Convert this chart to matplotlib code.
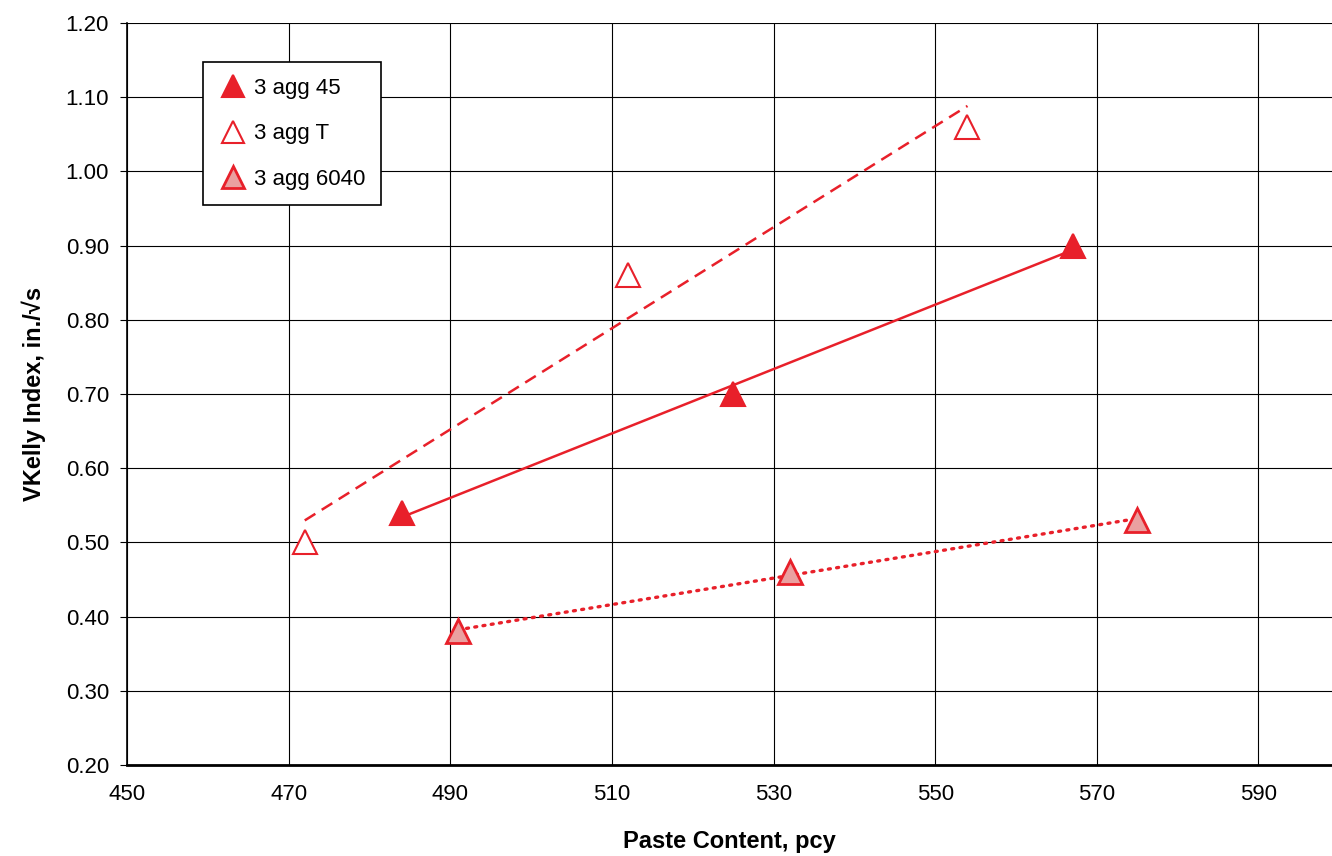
import matplotlib
matplotlib.use('Agg')
import matplotlib.pyplot as plt
import numpy as np

plt.rcParams['font.family'] = ['Liberation Sans', 'DejaVu Sans']

red = '#e8202a'

# data
x45 = [484, 525, 567]
y45 = [0.54, 0.70, 0.90]
xT = [472, 512, 554]
yT = [0.50, 0.86, 1.06]
x6040 = [491, 532, 575]
y6040 = [0.38, 0.46, 0.53]

xticks = [450, 470, 490, 510, 530, 550, 570, 590]
yticks = [0.20, 0.30, 0.40, 0.50, 0.60, 0.70, 0.80, 0.90, 1.00, 1.10, 1.20]

fig = plt.figure(figsize=(13.32, 8.56), dpi=100)
ax = fig.add_axes([0.0953, 0.1063, 0.9047, 0.8668])

def trend(xs, ys, style):
    m, b = np.polyfit(xs, ys, 1)
    xx = np.array([min(xs), max(xs)])
    ax.plot(xx, m * xx + b, color=red, lw=1.8, linestyle=style, zorder=2)

trend(x45, y45, '-')
trend(xT, yT, (0, (5, 3)))
m, b = np.polyfit(x6040, y6040, 1)
xx = np.array([min(x6040), max(x6040)])
ax.plot(xx, m * xx + b, color=red, lw=2.4, linestyle=(0, (0.6, 1.9)),
        dash_capstyle='round', zorder=2)

ax.plot(x45, y45, '^', ms=17, color=red, mec=red, mew=1.5, ls='none',
        label='3 agg 45', zorder=3)
ax.plot(xT, yT, '^', ms=17, mfc='white', mec=red, mew=1.5, ls='none',
        label='3 agg T', zorder=3)
ax.plot(x6040, y6040, '^', ms=17, mfc='#eaa0a0', mec=red, mew=2, ls='none',
        label='3 agg 6040', zorder=3)

ax.set_xlim(450, 599.1)
ax.set_ylim(0.2, 1.2)
ax.set_xticks(xticks)
ax.set_yticks(yticks)
ax.set_yticklabels(['%.2f' % v for v in yticks])
ax.grid(True, color='black', lw=0.8)
ax.set_axisbelow(True)
ax.tick_params(axis='x', length=0, labelsize=16, pad=14)
ax.tick_params(axis='y', length=5, labelsize=16, pad=8)
for s in ['top', 'right']:
    ax.spines[s].set_visible(False)
ax.spines['left'].set_linewidth(1.2)
ax.spines['bottom'].set_linewidth(2)

ax.set_xlabel('Paste Content, pcy', fontsize=17, fontweight='bold', labelpad=18)
ax.set_ylabel('VKelly Index, in./\u221as', fontsize=17, fontweight='bold', labelpad=14)

leg = ax.legend(loc='upper left', bbox_to_anchor=(0.063, 0.947), borderaxespad=0,
                fontsize=16, frameon=True, fancybox=False, edgecolor='black',
                framealpha=1, handletextpad=0.3, labelspacing=1.1, borderpad=0.7,
                handlelength=1.3, markerscale=0.95)
leg.get_frame().set_linewidth(1.2)

fig.savefig('out.png', dpi=100)
